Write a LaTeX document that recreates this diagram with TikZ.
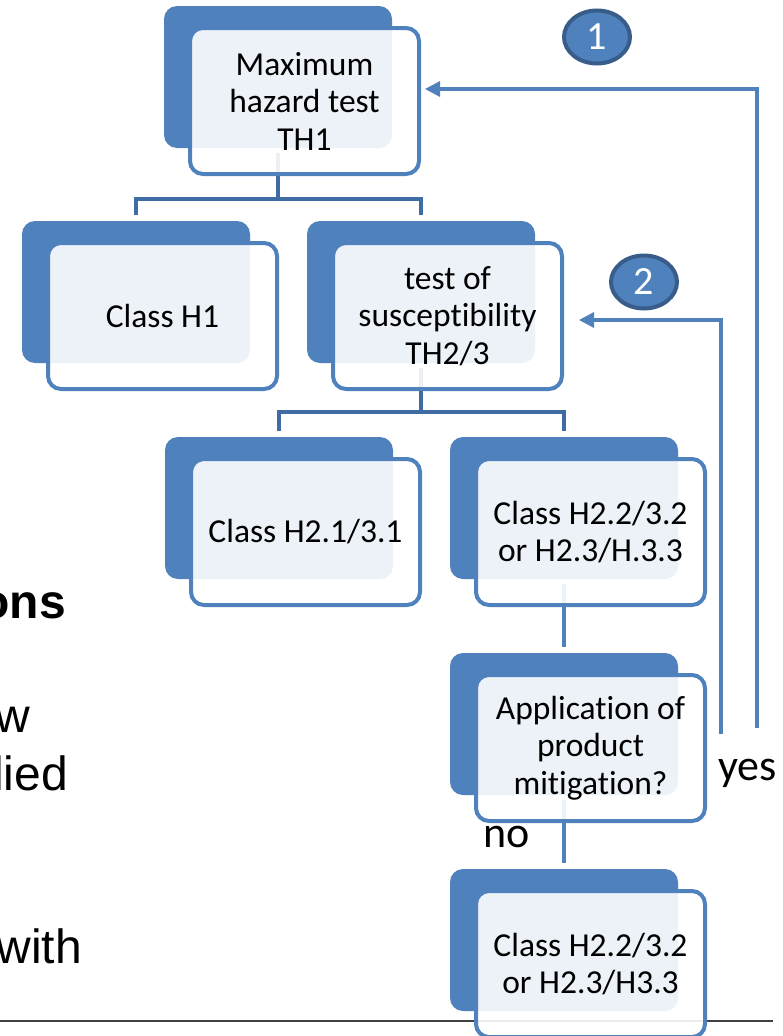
\documentclass[tikz,border=0pt]{standalone}
\usepackage{fontspec}
\setmainfont{Carlito}[RawFeature=-liga]
\newfontfamily\arialf{Liberation Sans}
\usetikzlibrary{arrows.meta,shapes.geometric}
\definecolor{accent}{HTML}{4F81BD}
\definecolor{treeblue}{HTML}{3F6CA2}
\definecolor{circedge}{HTML}{385D8A}
\definecolor{rulegray}{HTML}{404040}
\begin{document}
\begin{tikzpicture}[x=1pt,y=-1pt,
  back/.style={fill=accent, rounded corners=13pt, minimum width=228pt, minimum height=142pt, inner sep=0pt, outer sep=0pt},
  front/.style={draw=accent, line width=4pt, fill=white, fill opacity=0.9, text opacity=1, rounded corners=13pt, minimum width=229pt, minimum height=146pt, inner sep=0pt, align=center, font=\fontsize{33.5}{37.5}\selectfont},
  tree/.style={draw=treeblue, line width=4pt, shorten >=6pt},
  chain/.style={draw=accent, line width=4pt, shorten >=6pt},
  loopline/.style={draw=accent, line width=3.2pt, -{Triangle[length=15pt,width=15pt]}},
  badge/.style={ellipse, draw=circedge, line width=4pt, fill=accent, minimum width=66pt, minimum height=53pt, inner sep=0pt, text=white, font=\fontsize{40}{40}\selectfont},
  side/.style={anchor=base east, inner sep=0pt, font=\arialf\fontsize{48}{48}\selectfont},
  answer/.style={anchor=base west, inner sep=0pt, font=\fontsize{44}{44}\selectfont}]
\useasboundingbox (0,0) rectangle (782,1036);
\fill[white] (0,0) rectangle (782,1036);

% bottom rule
\coordinate (ruleL) at (0,1021);
\coordinate (ruleR) at (773,1021);
\draw[rulegray, line width=2pt] (ruleL) -- (ruleR);

% left cut-off text
\node[side, font=\arialf\bfseries\fontsize{48}{48}\selectfont] (t1) at (66,618) {ons};
\node[side] (t2) at (30,732) {w};
\node[side] (t3) at (68,790) {lied};
\node[side] (t4) at (82,963) {with};

% back rectangles
\node[back] (b1) at (278,77) {};
\node[back] (b2) at (136,292) {};
\node[back] (b3) at (421,292) {};
\node[back] (b4) at (279,508) {};
\node[back] (b5) at (564,508) {};
\node[back] (b6) at (564,724) {};
\node[back] (b7) at (564,940) {};

% tree connectors
\draw[tree] ([yshift=-5pt]b1.south) -- ++(0,46) -| (b2.north);
\draw[tree] ([yshift=-5pt]b1.south) -- ++(0,46) -| (b3.north);
\draw[tree] ([yshift=-5pt]b3.south) -- ++(0,44) -| (b4.north);
\draw[tree] ([yshift=-5pt]b3.south) -- ++(0,44) -| (b5.north);
\draw[chain] ([yshift=-5pt]b5.south) -- (b6.north);
\draw[chain] ([yshift=-5pt]b6.south) -- (b7.north);

% front rectangles
\node[front] (f1) at (304.5,101) {Maximum\\hazard test\\TH1};
\node[front] (f2) at (162.5,316) {Class H1};
\node[front] (f3) at (447.5,316) {test of\\susceptibility\\TH2/3};
\node[front] (f4) at (305.5,532) {Class H2.1/3.1};
\node[front] (f5) at (590.5,532) {Class H2.2/3.2\\or H2.3/H.3.3};
\node[front] (f6) at (590.5,748) {Application of\\product\\mitigation?};
\node[front] (f7) at (590.5,964) {Class H2.2/3.2\\or H2.3/H3.3};

% feedback arrows
\coordinate (yes1) at (757,728);
\coordinate (yes2) at (721,734);
\draw[loopline, shorten >=4pt] (yes1) |- (f1.east |- 0,89);
\draw[loopline, shorten >=15pt] (yes2) |- (f3.east |- 0,320);

% badges
\node[badge] (c1) at (597,37) {1};
\node[badge] (c2) at (644,282) {2};

% answers
\node[answer] (yes) at (718,780) {yes};
\node[answer] (no) at (483,847) {no};
\end{tikzpicture}
\end{document}
